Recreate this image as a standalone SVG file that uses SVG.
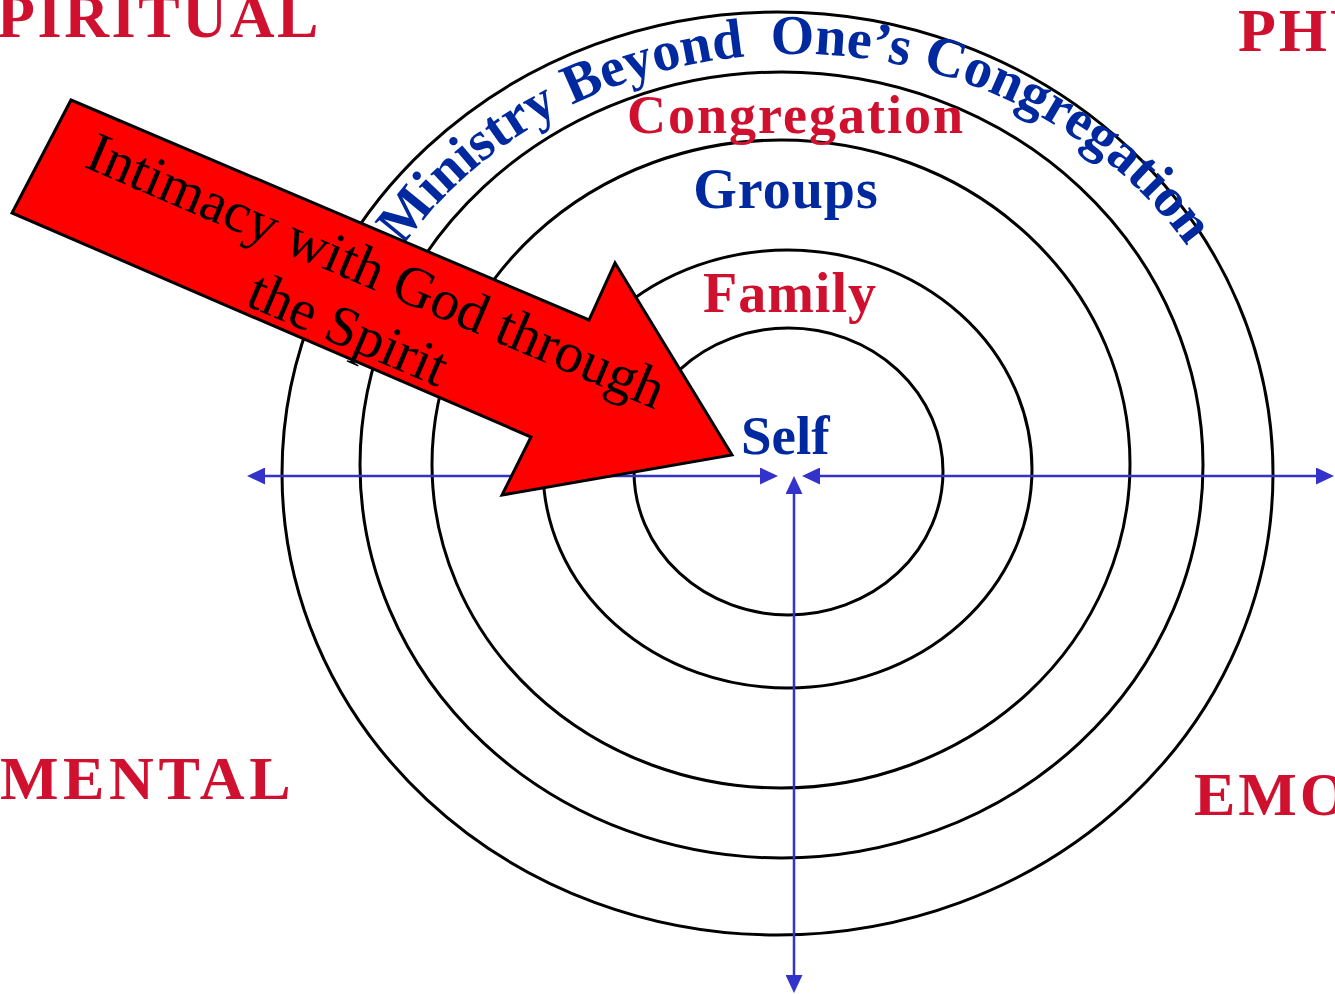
<svg xmlns="http://www.w3.org/2000/svg" width="1335" height="994" viewBox="0 0 1335 994">
<style>
.ring{fill:none;stroke:#000;stroke-width:3}
.axis{fill:none;stroke:#3333CC;stroke-width:2.5}
.lbl{font-family:"Liberation Serif","Times New Roman",serif;font-weight:bold}
.red{fill:#D0102F}
.blue{fill:#0029A0}
.arrowtxt{font-family:"Liberation Serif","Times New Roman",serif;font-size:57px;fill:#000}
</style>
<defs>
<marker id="ah" viewBox="0 0 18 17" refX="8" refY="8.5" markerWidth="18" markerHeight="17" markerUnits="userSpaceOnUse" orient="auto-start-reverse">
<path d="M0,0 L18,8.5 L0,17 z" fill="#3333CC"/>
</marker>
<path id="arcpath" d="M 328 475 A 467 421 0 0 1 1262 475"/>
</defs>
<g id="rings">
<ellipse class="ring" cx="777.5" cy="473.5" rx="495.5" ry="461.5"/>
<ellipse class="ring" cx="781.5" cy="465" rx="421.5" ry="393"/>
<ellipse class="ring" cx="781" cy="464" rx="349" ry="324"/>
<ellipse class="ring" cx="787.5" cy="469" rx="244.5" ry="219"/>
<ellipse class="ring" cx="788.5" cy="471.5" rx="154.5" ry="143.5"/>
</g>
<g id="connectors">
<line class="axis" x1="257" y1="476" x2="768" y2="476" marker-start="url(#ah)" marker-end="url(#ah)"/>
<line class="axis" x1="812" y1="476" x2="1324" y2="476" marker-start="url(#ah)" marker-end="url(#ah)"/>
<line class="axis" x1="794" y1="486" x2="794" y2="983" marker-start="url(#ah)" marker-end="url(#ah)"/>
</g>
<g id="corner-labels" class="lbl red" font-size="62">
<text x="321" y="37" text-anchor="end" letter-spacing="2.6">SPIRITUAL</text>
<text x="1238" y="51" letter-spacing="3">PHYSICAL</text>
<text x="0" y="799" letter-spacing="4.6">MENTAL</text>
<text x="1194" y="815" letter-spacing="3">EMOTIONAL</text>
</g>
<g id="ring-ministry">
<text class="lbl blue" font-size="56"><textPath href="#arcpath" startOffset="50%" text-anchor="middle">Ministry Beyond <tspan dx="12">One’s</tspan> Congregation</textPath></text>
</g>
<g id="ring-congregation">
<text class="lbl red" x="796" y="133" font-size="54" text-anchor="middle" letter-spacing="2">Congregation</text>
</g>
<g id="ring-groups">
<text class="lbl blue" x="786" y="208" font-size="56" text-anchor="middle" letter-spacing="1">Groups</text>
</g>
<g id="ring-family">
<text class="lbl red" x="790" y="312" font-size="56" text-anchor="middle" letter-spacing="1">Family</text>
</g>
<g id="ring-self">
<text class="lbl blue" x="741" y="454" font-size="55">Self</text>
</g>
<g id="intimacy-arrow">
<polygon points="71,100 589,320 615,263 732,455 502,495 531,437 12,213" fill="#FF0000" stroke="#000" stroke-width="3" stroke-linejoin="miter"/>
<text class="arrowtxt" transform="translate(369,288) rotate(23)" text-anchor="middle">Intimacy with God through</text>
<text class="arrowtxt" transform="translate(341,346) rotate(23)" text-anchor="middle">the Spirit</text>
</g>
</svg>
